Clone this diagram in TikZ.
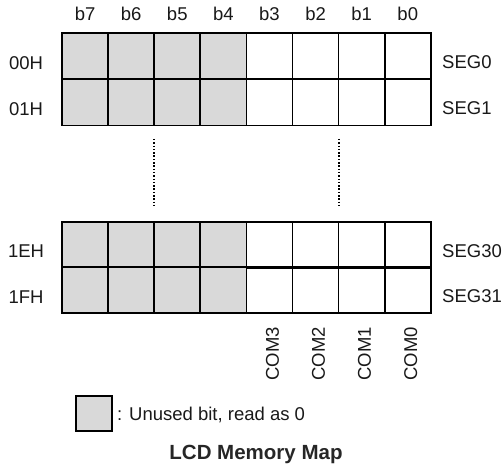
\documentclass[tikz,border=0pt]{standalone}
\usepackage{fontspec}
\setmainfont{Liberation Sans}
\begin{document}
\begin{tikzpicture}[x=1pt,y=-1pt,
  cell/.style={draw, line width=1.7pt, minimum width=46.1pt, minimum height=46pt, inner sep=0pt, outer sep=0pt},
  unused/.style={cell, fill=gray!30},
  lbl/.style={font=\fontsize{18.5}{22}\selectfont, text=black!90, inner sep=0pt},
  ttl/.style={font=\fontsize{20.5}{24}\selectfont\bfseries, text=black!85, inner sep=0pt},
  dotline/.style={line width=1.5pt, dash pattern=on 1.5pt off 1.8pt}]
\useasboundingbox (0,0) rectangle (503,470);
% bit labels
\foreach \i/\b in {0/7,1/6,2/5,3/4,4/3,5/2,6/1,7/0}
  \node[lbl] (b\b) at ({85.05+46.1*\i},14) {b\b};
% rows
\foreach \r/\y/\addr/\seg in {0/56.25/00H/SEG0, 1/102.5/01H/SEG1, 2/244.75/1EH/SEG30, 3/290.25/1FH/SEG31}{
  \foreach \i in {0,1,2,3}
    \node[unused] (c\r-\i) at ({85.05+46.1*\i},\y) {};
  \foreach \i in {4,5,6,7}
    \node[cell] (c\r-\i) at ({85.05+46.1*\i},\y) {};
  \node[lbl] (a\r) at (26,\y+6.5) {\addr};
  \node[lbl, anchor=west] (s\r) at (442,\y+6) {\seg};
}
% dotted continuation lines
\coordinate (d1a) at (154,139);
\coordinate (d1b) at (154,208);
\coordinate (d2a) at (339,139);
\coordinate (d2b) at (339,208);
\draw[dotline] (d1a) -- (d1b);
\draw[dotline] (d2a) -- (d2b);
% COM labels
\foreach \i/\c in {4/3,5/2,6/1,7/0}
  \node[lbl, rotate=90] (com\c) at ({88+46.1*\i},354) {COM\c};
% legend
\node[draw, line width=1.7pt, fill=gray!30, minimum width=36pt, minimum height=35pt, inner sep=0pt] (legbox) at (94,413.5) {};
\node[lbl, anchor=west] (legtxt) at (117,415) {: Unused bit, read as 0};
\node[ttl] (title) at (256,454) {LCD Memory Map};
\end{tikzpicture}
\end{document}
